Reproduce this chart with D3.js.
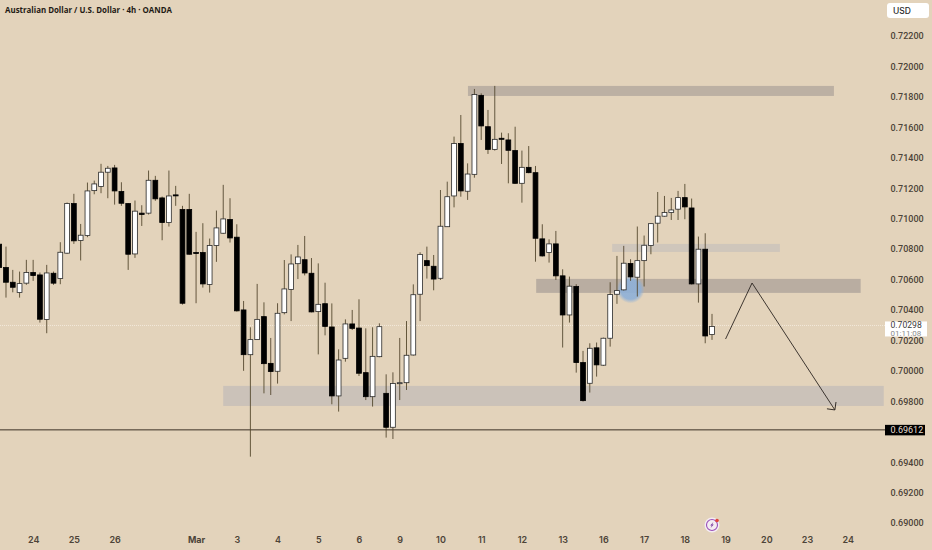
<!DOCTYPE html>
<html>
<head>
<meta charset="utf-8">
<script src="https://cdnjs.cloudflare.com/ajax/libs/d3/7.9.0/d3.min.js"></script>
<style>
  html, body { margin: 0; padding: 0; background: #e3d3bb; }
  svg { display: block; }
  text { font-family: "Open Sans", "Noto Sans", sans-serif; }
</style>
</head>
<body>
<div id="chart"></div>
<script>
// 4h candles in points (price * 100000)
const opens = [70832,70679,70582,70514,70576,70646,70630,70337,70641,70606,70773,71099,70856,70889,71184,71211,71305,71333,71178,71099,70768,71036,71036,71252,71136,70974,71156,71060,71060,70777,70777,70567,70823,70904,70994,70878,70400,70106,70205,70356,70049,69997,70382,70535,70704,70730,70641,70389,70441,70288,69835,70082,70308,70281,69988,69830,70093,69852,69629,69918,69922,70104,70503,70724,70687,70608,70947,71149,71493,71180,71291,71810,71604,71455,71528,71517,71447,71232,71337,71302,70867,70777,70834,70624,70367,70554,70054,69918,70151,70037,70214,70503,70532,70705,70615,70724,70823,70970,71016,71040,71062,71138,71070,70571,70799,70238];
const highs = [70850,70816,70663,70652,70729,70729,70646,70696,70652,70845,71106,71163,70965,71237,71250,71360,71346,71353,71239,71101,71119,71088,71316,71281,71145,71316,71215,71084,71163,70913,70970,70869,71053,71222,71134,70963,70459,70286,70571,70450,70216,70444,70728,70765,70827,70886,70741,70706,70579,70443,70141,70338,70400,70470,70279,70286,70312,69977,69990,70216,70327,70568,70779,70816,70761,71188,71243,71539,71681,71363,71852,71823,71714,71872,71565,71561,71604,71447,71477,71346,70963,70864,70919,70667,70619,70569,70131,70181,70186,70218,70582,70755,70821,70733,70948,70889,70970,71175,71149,71136,71182,71228,71132,70882,70904,70374];
const lows = [70660,70481,70516,70481,70565,70591,70317,70247,70565,70569,70768,70834,70725,70878,71160,71167,71134,71092,71084,70663,70742,70952,71027,71117,70858,70948,71084,70435,70764,70444,70547,70514,70716,70900,70843,70389,70000,69436,70203,69852,69841,69916,70371,70327,70603,70627,70384,70108,70233,69780,69732,70060,70268,69966,69808,69765,70089,69561,69552,69808,69874,70100,70327,70606,70529,70597,70945,71074,71144,71123,71269,71517,71425,71447,71359,71232,71228,71105,71298,70717,70751,70711,70597,70153,70317,69988,69798,69857,69962,70032,70159,70440,70527,70591,70488,70554,70766,70843,71013,70991,70991,70996,70567,70448,70181,70203];
const closes = [70679,70582,70549,70573,70646,70626,70339,70643,70576,70779,71099,70854,70891,71182,71228,71305,71331,71182,71101,70766,71049,71027,71252,71130,70974,71149,71152,70444,70766,70773,70571,70823,70939,70998,70873,70394,70106,70205,70338,70047,69995,70378,70538,70702,70748,70643,70387,70437,70292,69835,70071,70308,70279,69984,69830,70095,70290,69629,69916,69922,70102,70500,70765,70691,70603,70950,71144,71493,71182,71293,71815,71609,71455,71521,71521,71449,71232,71337,71302,70871,70755,70834,70624,70367,70556,70054,69804,70148,70039,70214,70501,70527,70707,70617,70724,70825,70967,71016,71040,71057,71138,71077,70571,70799,70229,70291];

// 0.69600 sits behind the level tag in the original, so it is left out
const priceTicks = [0.69,0.692,0.694,0.698,0.70,0.702,0.704,0.706,0.708,0.71,0.712,0.714,0.716,0.718,0.72,0.722];
const dayIndex = [5,11,17,29,35,41,47,53,59,65,71,77,83,89,95,101,107,113,119,125];
const dayLabels = ["24","25","26","Mar","3","4","5","6","9","10","11","12","13","16","17","18","19","20","23","24"];

// drawn zones: candle index span and price span
const zoneStart = [69.05, 90.3, 79.1, 33];
const zoneEnd = [122.96, 115, 126.9, 130.3];
const zoneHigh = [0.71872, 0.70834, 0.70604, 0.69901];
const zoneLow = [0.71806, 0.70781, 0.70512, 0.69769];
const zoneColor = ["#bcb0a3", "#cfc6bb", "#b9ada1", "#cbc2b9"];

// projected move drawn on the chart
const arrowIndex = [107, 110.9, 123.1];
const arrowPrice = [0.70209, 0.70577, 0.69743];

const lastPrice = 0.70298;
const levelPrice = 0.69612;
const countdown = "01:11:08";

const width = 932, height = 550;
const bg = "#e3d3bb";
const axisText = "#4d4338";
const axisFont = "Roboto, 'Open Sans', sans-serif";

const x = d3.scaleLinear().domain([0, 105]).range([-0.8, 712]);
const y = d3.scaleLinear().domain([0.69, 0.722]).range([523, 36]);
const pt = v => v / 100000;

const svg = d3.select("#chart").append("svg")
    .attr("width", width)
    .attr("height", height)
    .attr("viewBox", [0, 0, width, height]);

svg.append("rect").attr("width", width).attr("height", height).attr("fill", bg);

const defs = svg.append("defs");
defs.append("filter").attr("id", "soft")
    .append("feGaussianBlur").attr("stdDeviation", 0.3);
const glow = defs.append("radialGradient").attr("id", "touch");
glow.append("stop").attr("offset", "70%").attr("stop-color", "#8eb0d8").attr("stop-opacity", 0.9);
glow.append("stop").attr("offset", "100%").attr("stop-color", "#8eb0d8").attr("stop-opacity", 0);

// zones
svg.append("g").selectAll("rect")
    .data(zoneStart)
    .join("rect")
    .attr("x", (d, i) => x(d))
    .attr("width", (d, i) => x(zoneEnd[i]) - x(d))
    .attr("y", (d, i) => y(zoneHigh[i]))
    .attr("height", (d, i) => y(zoneLow[i]) - y(zoneHigh[i]))
    .attr("fill", (d, i) => zoneColor[i]);

// blue touch marker
svg.append("circle")
    .attr("cx", x(93))
    .attr("cy", y(0.70535))
    .attr("r", 14)
    .attr("fill", "url(#touch)");

// last price dotted line
svg.append("line")
    .attr("x1", 0).attr("x2", 885)
    .attr("y1", y(lastPrice)).attr("y2", y(lastPrice))
    .attr("stroke", "#f3eadb")
    .attr("stroke-width", 1)
    .attr("stroke-dasharray", "1 1");

// horizontal level
svg.append("line")
    .attr("x1", 0).attr("x2", 885)
    .attr("y1", y(levelPrice)).attr("y2", y(levelPrice))
    .attr("stroke", "#3a3025")
    .attr("stroke-width", 1);

// candles
const candles = svg.append("g").attr("filter", "url(#soft)");

candles.selectAll("line")
    .data(opens)
    .join("line")
    .attr("x1", (d, i) => x(i))
    .attr("x2", (d, i) => x(i))
    .attr("y1", (d, i) => y(pt(highs[i])))
    .attr("y2", (d, i) => y(pt(lows[i])))
    .attr("stroke", "#55472f")
    .attr("stroke-width", 0.9);

candles.selectAll("rect")
    .data(opens)
    .join("rect")
    .attr("x", (d, i) => x(i) - 2.4)
    .attr("width", 4.8)
    .attr("y", (d, i) => y(pt(Math.max(d, closes[i]))))
    .attr("height", (d, i) => Math.max(1, Math.abs(y(pt(d)) - y(pt(closes[i])))))
    .attr("fill", (d, i) => closes[i] >= d ? "#ffffff" : "#000000")
    .attr("stroke", (d, i) => closes[i] >= d ? "#2a2a2a" : "#000000")
    .attr("stroke-width", 0.8);

// arrow
const arrowLine = d3.line().x(d => x(d)).y((d, i) => y(arrowPrice[i]));
svg.append("path")
    .attr("d", arrowLine(arrowIndex))
    .attr("fill", "none")
    .attr("stroke", "#2b2520")
    .attr("stroke-width", 0.9);

const tipX = x(arrowIndex[2]), tipY = y(arrowPrice[2]);
svg.append("path")
    .attr("d", `M${tipX - 8},${tipY} L${tipX},${tipY} L${tipX},${tipY - 8}`)
    .attr("transform", `rotate(8 ${tipX} ${tipY})`)
    .attr("fill", "none")
    .attr("stroke", "#2b2520")
    .attr("stroke-width", 0.9);

// price axis
const yAxis = d3.axisRight(y)
    .tickValues(priceTicks)
    .tickFormat(d3.format(".5f"))
    .tickSize(0)
    .tickPadding(0);

svg.append("g")
    .attr("transform", "translate(890.5,0)")
    .call(yAxis)
    .call(g => g.select(".domain").remove())
    .call(g => g.selectAll("text")
        .attr("fill", axisText)
        .style("font-size", "9px")
        .style("font-family", axisFont)
        .style("font-weight", 500));

// time axis
const xAxis = d3.axisBottom(x)
    .tickValues(dayIndex)
    .tickFormat((d, i) => dayLabels[i])
    .tickSize(0)
    .tickPadding(0);

svg.append("g")
    .attr("transform", "translate(0,537)")
    .call(xAxis)
    .call(g => g.select(".domain").remove())
    .call(g => g.selectAll("text")
        .attr("fill", axisText)
        .style("font-size", "9px")
        .style("font-family", "Inter, 'Open Sans', sans-serif")
        .style("font-weight", (d, i) => dayLabels[i] === "Mar" ? 700 : 600));

// title
svg.append("text")
    .attr("x", 5)
    .attr("y", 12.8)
    .attr("fill", "#1f1a14")
    .style("font-size", "7.9px")
    .style("font-weight", 700)
    .text("Australian Dollar / U.S. Dollar · 4h · OANDA");

// currency button
svg.append("rect")
    .attr("x", 887).attr("y", 3)
    .attr("width", 42).attr("height", 15)
    .attr("rx", 3)
    .attr("fill", "#ffffff");
svg.append("text")
    .attr("x", 893).attr("y", 13.5)
    .attr("fill", "#2a2a2a")
    .style("font-size", "8.5px")
    .style("font-family", "Inter, 'Open Sans', sans-serif")
    .style("font-weight", 500)
    .text("USD");

// last price tag
svg.append("rect")
    .attr("x", 885).attr("y", y(lastPrice) - 4)
    .attr("width", 42).attr("height", 15)
    .attr("fill", "#ffffff");
svg.append("text")
    .attr("x", 890.5).attr("y", y(lastPrice) + 3)
    .attr("fill", "#3b3b3b")
    .style("font-size", "8.6px")
    .style("font-family", axisFont)
    .text(d3.format(".5f")(lastPrice));
svg.append("text")
    .attr("x", 890.5).attr("y", y(lastPrice) + 10.6)
    .attr("fill", "#8a8a8a")
    .style("font-size", "8px")
    .style("font-family", axisFont)
    .text(countdown);

// level tag
svg.append("rect")
    .attr("x", 885).attr("y", y(levelPrice) - 5)
    .attr("width", 40).attr("height", 10.5)
    .attr("fill", "#000000");
svg.append("text")
    .attr("x", 890.5).attr("y", y(levelPrice) + 3.2)
    .attr("fill", "#e8dfd0")
    .style("font-size", "9px")
    .style("font-family", axisFont)
    .text(d3.format(".5f")(levelPrice));

// event marker
const marker = svg.append("g").attr("transform", "translate(712,525)");
marker.append("circle").attr("r", 7.5).attr("fill", "#f4ecf2");
marker.append("circle").attr("r", 5.5).attr("fill", "none").attr("stroke", "#9a4fb8").attr("stroke-width", 1.1);
marker.append("path")
    .attr("d", "M1.4,-3 L-1.8,0.6 L-0.2,0.6 L-1.4,3 L1.8,-0.6 L0.2,-0.6 Z")
    .attr("fill", "#7b3aa0");
marker.append("circle").attr("cx", 5).attr("cy", -4.5).attr("r", 1.8).attr("fill", "#e0443e");
</script>
</body>
</html>
